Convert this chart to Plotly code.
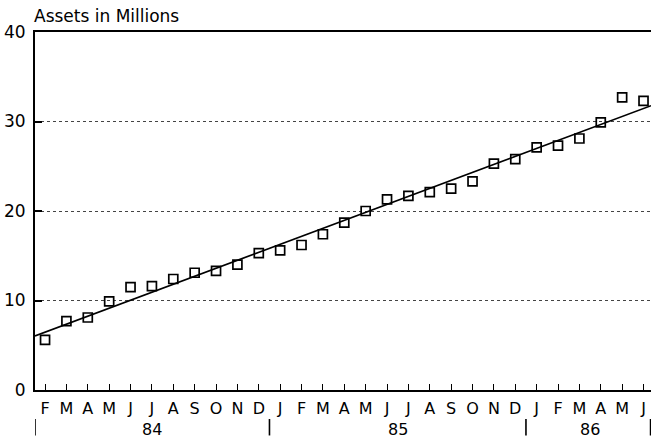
import numpy as np
import plotly.graph_objects as go

months = ["F","M","A","M","J","J","A","S","O","N","D",
          "J","F","M","A","M","J","J","A","S","O","N","D",
          "J","F","M","A","M","J"]
years = ["84", "85", "86"]
year_counts = [11, 12, 6]
assets = [5.6, 7.7, 8.1, 9.9, 11.5, 11.6, 12.4, 13.1, 13.3, 14.0, 15.3,
          15.6, 16.2, 17.4, 18.7, 20.0, 21.3, 21.7, 22.1, 22.5, 23.3, 25.3, 25.8,
          27.1, 27.3, 28.1, 29.9, 32.7, 32.3]
y_ticks = [0, 10, 20, 30, 40]

x = np.arange(len(assets))
xr = [-0.47, 28.35]
slope, icpt = np.polyfit(x, assets, 1)
xl = np.array(xr)
yl = icpt + slope * xl

FONT = "DejaVu Sans, Liberation Sans, Arial, sans-serif"
fig = go.Figure()
fig.add_trace(go.Scatter(x=xl, y=yl, mode="lines",
                         line=dict(color="black", width=1.6), showlegend=False))
fig.add_trace(go.Scatter(x=x, y=assets, mode="markers",
                         marker=dict(symbol="square-open", size=9, color="black",
                                     line=dict(width=1.7)), showlegend=False))

# year labels and separators
start = 0
annotations = []
shapes = []
seps = []
for yr, cnt in zip(years, year_counts):
    mid = start + (cnt - 1) / 2
    annotations.append(dict(x=mid, y=0, xref="x", yref="paper", text=yr,
                            showarrow=False, yanchor="middle", yshift=-39,
                            font=dict(size=16, family=FONT, color="black")))
    seps.append(xr[0] if start == 0 else start - 0.5)
    start += cnt
seps.append(xr[1] - 0.02)
for sx in seps:
    shapes.append(dict(type="line", xref="x", yref="paper", x0=sx, x1=sx,
                       y0=-0.081, y1=-0.127, line=dict(color="black", width=1.6)))

annotations.append(dict(x=0, y=1, xref="paper", yref="paper", text="Assets in Millions",
                        showarrow=False, xanchor="left", yanchor="bottom", yshift=4,
                        xshift=-3, font=dict(size=17, family=FONT, color="black")))

fig.update_layout(
    width=651, height=439,
    margin=dict(l=35, r=0, t=32, b=49),
    plot_bgcolor="white", paper_bgcolor="white",
    font=dict(family=FONT, color="black"),
    annotations=annotations, shapes=shapes,
    xaxis=dict(range=xr, tickmode="array", tickvals=list(x), ticktext=months,
               ticks="inside", ticklen=6, tickwidth=1, tickcolor="black",
               showline=True, linecolor="black", linewidth=2, mirror=True,
               showgrid=False, zeroline=False, tickfont=dict(size=16),
               ticklabelstandoff=3),
    yaxis=dict(range=[0, 40], tickmode="array", tickvals=y_ticks,
               ticks="inside", ticklen=7, tickwidth=2, tickcolor="black",
               showline=True, linecolor="black", linewidth=2,
               showgrid=True, gridcolor="#444", griddash="dot", gridwidth=1,
               zeroline=False, tickfont=dict(size=17), ticklabelstandoff=4),
)
fig.write_html("out.html")
